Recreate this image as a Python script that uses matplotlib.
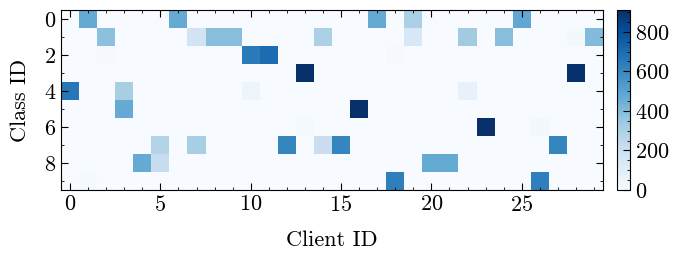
import numpy as np
import matplotlib
matplotlib.use("Agg")
import matplotlib.pyplot as plt
from matplotlib.ticker import MultipleLocator

n_classes = 10
n_clients = 30
# non-zero entries per class row: client ids and sample counts
row_clients = [
    [1, 6, 17, 19, 25],                       # class 0
    [2, 7, 8, 9, 14, 19, 22, 24, 28, 29],     # class 1
    [2, 10, 11, 18],                          # class 2
    [13, 28],                                 # class 3
    [0, 3, 10, 22],                           # class 4
    [3, 16],                                  # class 5
    [13, 23, 26],                             # class 6
    [5, 7, 12, 14, 15, 27],                   # class 7
    [4, 5, 20, 21],                           # class 8
    [1, 18, 26],                              # class 9
]
row_counts = [
    [470, 470, 470, 300, 480],
    [380, 170, 390, 390, 300, 140, 330, 390, 15, 400],
    [10, 650, 700, 10],
    [905, 905],
    [660, 310, 45, 70],
    [470, 905],
    [12, 905, 18],
    [280, 310, 610, 200, 610, 610],
    [470, 220, 470, 470],
    [14, 630, 630],
]

M = np.zeros((n_classes, n_clients))
for c, (ks, vs) in enumerate(zip(row_clients, row_counts)):
    for k, v in zip(ks, vs):
        M[c, k] = v

plt.rcParams['font.family'] = ['cmr10', 'DejaVu Serif']
plt.rcParams['mathtext.fontset'] = 'cm'
plt.rcParams['axes.formatter.use_mathtext'] = True

fs = 16
fig = plt.figure(figsize=(6.83, 2.61), dpi=100)
ax = fig.add_axes([61/683, 1 - 190/261, 542/683, 180/261])
im = ax.imshow(M, cmap='Blues', vmin=0, vmax=910, aspect='auto', interpolation='nearest')
ax.set_xlabel('Client ID', fontsize=fs, labelpad=11)
ax.set_ylabel('Class ID', fontsize=fs, labelpad=10)
ax.xaxis.set_major_locator(MultipleLocator(5))
ax.xaxis.set_minor_locator(MultipleLocator(1))
ax.yaxis.set_major_locator(MultipleLocator(2))
ax.yaxis.set_minor_locator(MultipleLocator(1))
ax.tick_params(which='both', direction='in', top=True, right=True, labelsize=fs)
ax.tick_params(which='major', length=5, width=0.8)
ax.tick_params(which='minor', length=2.5, width=0.6)

cax = fig.add_axes([617/683, 1 - 190/261, 13/683, 180/261])
cb = fig.colorbar(im, cax=cax)
cb.set_ticks([0, 200, 400, 600, 800])
cb.ax.yaxis.set_minor_locator(MultipleLocator(50))
cb.ax.tick_params(which='both', direction='in', labelsize=fs)
cb.ax.tick_params(which='major', length=5, width=0.8)
cb.ax.tick_params(which='minor', length=2.5, width=0.6)

fig.savefig('out.png', dpi=100)
